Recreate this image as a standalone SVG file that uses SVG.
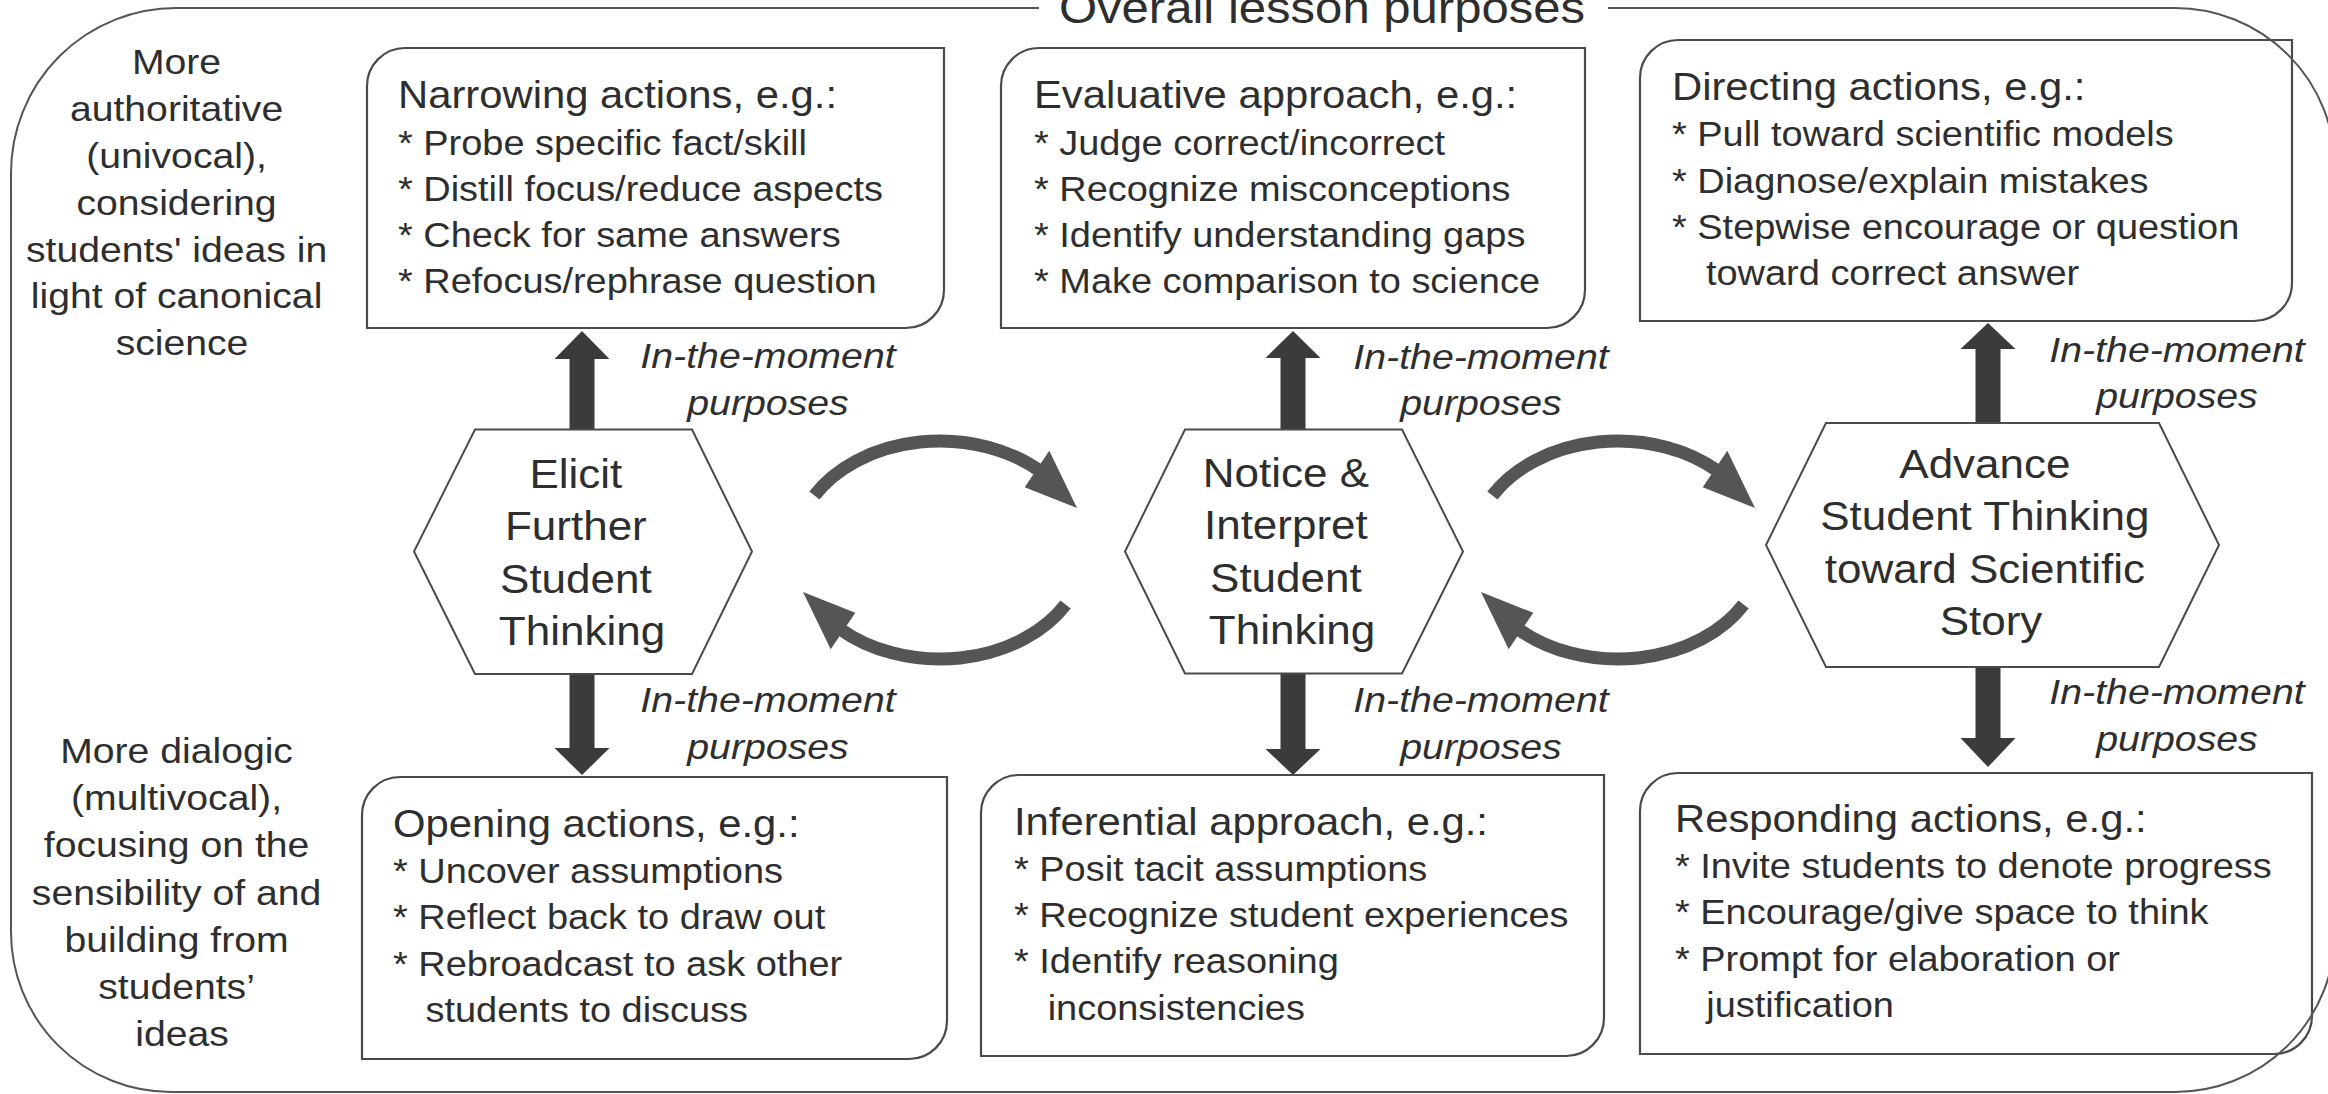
<svg xmlns="http://www.w3.org/2000/svg" xmlns:xlink="http://www.w3.org/1999/xlink" width="2328" height="1094" viewBox="0 0 2328 1094">
  <style>
    .t { font-family: "Liberation Sans", Arial, Helvetica, sans-serif; fill: #2e2e2e; }
    .hd { font-size: 38px; }
    .bl { font-size: 34.5px; }
    .hx { font-size: 40px; text-anchor: middle; }
    .lb { font-size: 35.6px; text-anchor: middle; }
    .mo { font-size: 35.7px; font-style: italic; text-anchor: middle; }
    .ttl { font-size: 44.6px; text-anchor: middle; }
    .box { fill: #ffffff; stroke: #4a4a4a; stroke-width: 2.2; }
    .hex { fill: #ffffff; stroke: #4a4a4a; stroke-width: 2; }
    .varrow { fill: #3b3b3b; }
    .arc { fill: none; stroke: #555555; stroke-width: 13; }
    .arc-head { fill: #555555; }
    .frame { fill: none; stroke: #555555; stroke-width: 2; }
  </style>
  <defs>
    <!-- one half of a cycle: clockwise arc over the top ending in a head -->
    <g id="cycle-half">
      <path class="arc" d="M814.4,495.5 A145,109 0 0 1 1040.7,471.6"/>
      <polygon class="arc-head" points="1024.7,487.2 1049.3,450.8 1077,508"/>
    </g>
  </defs>

  <rect width="2328" height="1094" fill="#ffffff"/>

  <!-- connectors -->
  <g id="connectors">
    <!-- cycle between Elicit and Notice -->
    <use xlink:href="#cycle-half"/>
    <use xlink:href="#cycle-half" transform="rotate(180 940 550)"/>
    <!-- cycle between Notice and Advance -->
    <use xlink:href="#cycle-half" transform="translate(678 0)"/>
    <use xlink:href="#cycle-half" transform="translate(678 0) rotate(180 940 550)"/>

    <!-- in-the-moment purpose arrows -->
    <polygon class="varrow" points="569.5,432 569.5,359 554.5,359 582,331 609.5,359 594.5,359 594.5,432"/>
    <polygon class="varrow" points="569.5,671 569.5,748 554.5,748 582,775 609.5,748 594.5,748 594.5,671"/>
    <polygon class="varrow" points="1280.5,432 1280.5,358 1265.5,358 1293,331 1320.5,358 1305.5,358 1305.5,432"/>
    <polygon class="varrow" points="1280.5,671 1280.5,749 1265.5,749 1293,775 1320.5,749 1305.5,749 1305.5,671"/>
    <polygon class="varrow" points="1975.5,426 1975.5,349 1960.5,349 1988,323 2015.5,349 2000.5,349 2000.5,426"/>
    <polygon class="varrow" points="1975.5,664 1975.5,738 1960.5,738 1988,767 2015.5,738 2000.5,738 2000.5,664"/>

    <text class="t mo" transform="matrix(1.1 0 0 1 -76.8 0)"><tspan x="768" y="368.5">In-the-moment</tspan><tspan x="768" y="415.5">purposes</tspan></text>
    <text class="t mo" transform="matrix(1.1 0 0 1 -76.8 0)"><tspan x="768" y="712">In-the-moment</tspan><tspan x="768" y="759.5">purposes</tspan></text>
    <text class="t mo" transform="matrix(1.1 0 0 1 -148.1 0)"><tspan x="1481" y="369">In-the-moment</tspan><tspan x="1481" y="415.5">purposes</tspan></text>
    <text class="t mo" transform="matrix(1.1 0 0 1 -148.1 0)"><tspan x="1481" y="712">In-the-moment</tspan><tspan x="1481" y="759">purposes</tspan></text>
    <text class="t mo" transform="matrix(1.1 0 0 1 -217.7 0)"><tspan x="2177" y="361.7">In-the-moment</tspan><tspan x="2177" y="408">purposes</tspan></text>
    <text class="t mo" transform="matrix(1.1 0 0 1 -217.7 0)"><tspan x="2177" y="704.5">In-the-moment</tspan><tspan x="2177" y="751">purposes</tspan></text>
  </g>

  <!-- side labels -->
  <g id="label-authoritative">
    <text class="t lb" transform="matrix(1.1 0 0 1 -18.2 0)">
      <tspan x="182" y="74.5">More</tspan>
      <tspan x="182" y="121.3">authoritative</tspan>
      <tspan x="182" y="168.1">(univocal),</tspan>
      <tspan x="182" y="214.9">considering</tspan>
      <tspan x="182" y="261.7">students' ideas in</tspan>
      <tspan x="182" y="308.5">light of canonical</tspan>
      <tspan x="182" y="355.3">science</tspan>
    </text>
  </g>
  <g id="label-dialogic">
    <text class="t lb" transform="matrix(1.1 0 0 1 -18.2 0)">
      <tspan x="182" y="763">More dialogic</tspan>
      <tspan x="182" y="810.2">(multivocal),</tspan>
      <tspan x="182" y="857.4">focusing on the</tspan>
      <tspan x="182" y="904.6">sensibility of and</tspan>
      <tspan x="182" y="951.8">building from</tspan>
      <tspan x="182" y="999">students’</tspan>
      <tspan x="182" y="1046.2">ideas</tspan>
    </text>
  </g>

  <!-- upper action boxes -->
  <g id="narrowing">
    <path class="box" d="M405,48 H944 V290 A38,38 0 0 1 906,328 H367 V86 A38,38 0 0 1 405,48 Z"/>
    <text class="t" transform="matrix(1.1 0 0 1 -39.8 0)">
      <tspan class="hd" x="398" y="108.5">Narrowing actions, e.g.:</tspan>
      <tspan class="bl" x="398" y="154.7">* Probe specific fact/skill</tspan>
      <tspan class="bl" x="398" y="200.9">* Distill focus/reduce aspects</tspan>
      <tspan class="bl" x="398" y="247.1">* Check for same answers</tspan>
      <tspan class="bl" x="398" y="293.3">* Refocus/rephrase question</tspan>
    </text>
  </g>
  <g id="evaluative">
    <path class="box" d="M1039,48 H1585 V290 A38,38 0 0 1 1547,328 H1001 V86 A38,38 0 0 1 1039,48 Z"/>
    <text class="t" transform="matrix(1.1 0 0 1 -103.4 0)">
      <tspan class="hd" x="1034" y="108.5">Evaluative approach, e.g.:</tspan>
      <tspan class="bl" x="1034" y="154.7">* Judge correct/incorrect</tspan>
      <tspan class="bl" x="1034" y="200.9">* Recognize misconceptions</tspan>
      <tspan class="bl" x="1034" y="247.1">* Identify understanding gaps</tspan>
      <tspan class="bl" x="1034" y="293.3">* Make comparison to science</tspan>
    </text>
  </g>
  <g id="directing">
    <path class="box" d="M1678,40 H2292 V283 A38,38 0 0 1 2254,321 H1640 V78 A38,38 0 0 1 1678,40 Z"/>
    <text class="t" transform="matrix(1.1 0 0 1 -167.2 0)">
      <tspan class="hd" x="1672" y="100.3">Directing actions, e.g.:</tspan>
      <tspan class="bl" x="1672" y="146.5">* Pull toward scientific models</tspan>
      <tspan class="bl" x="1672" y="192.7">* Diagnose/explain mistakes</tspan>
      <tspan class="bl" x="1672" y="238.9">* Stepwise encourage or question</tspan>
      <tspan class="bl" x="1702.9" y="285.1">toward correct answer</tspan>
    </text>
  </g>

  <!-- central practices -->
  <g id="elicit">
    <polygon class="hex" points="475,429.5 692,429.5 752,551.5 692,674 475,674 414,551.5"/>
    <text class="t hx" transform="matrix(1.1 0 0 1 -58.2 0)">
      <tspan x="582" y="488">Elicit</tspan>
      <tspan x="582" y="540.3">Further</tspan>
      <tspan x="582" y="592.6">Student</tspan>
      <tspan x="582" y="644.9">Thinking</tspan>
    </text>
  </g>
  <g id="notice">
    <polygon class="hex" points="1185,429.5 1402,429.5 1463,551.5 1402,673.5 1185,673.5 1125,551.5"/>
    <text class="t hx" transform="matrix(1.1 0 0 1 -129.2 0)">
      <tspan x="1292" y="487">Notice &amp;</tspan>
      <tspan x="1292" y="539.5">Interpret</tspan>
      <tspan x="1292" y="592">Student</tspan>
      <tspan x="1292" y="644.5">Thinking</tspan>
    </text>
  </g>
  <g id="advance">
    <polygon class="hex" points="1826,423 2159,423 2219,545 2159,667 1826,667 1766,545"/>
    <text class="t hx" transform="matrix(1.1 0 0 1 -199.1 0)">
      <tspan x="1991" y="478.4">Advance</tspan>
      <tspan x="1991" y="530.5">Student Thinking</tspan>
      <tspan x="1991" y="582.6">toward Scientific</tspan>
      <tspan x="1991" y="634.7">Story</tspan>
    </text>
  </g>

  <!-- lower action boxes -->
  <g id="opening">
    <path class="box" d="M400,777 H947 V1021 A38,38 0 0 1 909,1059 H362 V815 A38,38 0 0 1 400,777 Z"/>
    <text class="t" transform="matrix(1.1 0 0 1 -39.3 0)">
      <tspan class="hd" x="393" y="836.7">Opening actions, e.g.:</tspan>
      <tspan class="bl" x="393" y="883">* Uncover assumptions</tspan>
      <tspan class="bl" x="393" y="929.3">* Reflect back to draw out</tspan>
      <tspan class="bl" x="393" y="975.6">* Rebroadcast to ask other</tspan>
      <tspan class="bl" x="422.5" y="1021.9">students to discuss</tspan>
    </text>
  </g>
  <g id="inferential">
    <path class="box" d="M1019,775 H1604 V1018 A38,38 0 0 1 1566,1056 H981 V813 A38,38 0 0 1 1019,775 Z"/>
    <text class="t" transform="matrix(1.1 0 0 1 -101.4 0)">
      <tspan class="hd" x="1014" y="834.8">Inferential approach, e.g.:</tspan>
      <tspan class="bl" x="1014" y="881">* Posit tacit assumptions</tspan>
      <tspan class="bl" x="1014" y="927.3">* Recognize student experiences</tspan>
      <tspan class="bl" x="1014" y="973.5">* Identify reasoning</tspan>
      <tspan class="bl" x="1044.6" y="1019.8">inconsistencies</tspan>
    </text>
  </g>
  <g id="responding">
    <path class="box" d="M1678,773 H2312 V1016 A38,38 0 0 1 2274,1054 H1640 V811 A38,38 0 0 1 1678,773 Z"/>
    <text class="t" transform="matrix(1.1 0 0 1 -167.5 0)">
      <tspan class="hd" x="1675" y="831.7">Responding actions, e.g.:</tspan>
      <tspan class="bl" x="1675" y="878">* Invite students to denote progress</tspan>
      <tspan class="bl" x="1675" y="924.3">* Encourage/give space to think</tspan>
      <tspan class="bl" x="1675" y="970.6">* Prompt for elaboration or</tspan>
      <tspan class="bl" x="1703.4" y="1016.9">justification</tspan>
    </text>
  </g>

  <!-- enclosing frame with its title set into the top edge -->
  <g id="lesson-frame">
    <path class="frame" d="M1608,8 H2175 A160,160 0 0 1 2335,168 V932 A160,160 0 0 1 2175,1092 H171 A160,160 0 0 1 11,932 V173 A165,165 0 0 1 176,8 H1039"/>
    <text class="t ttl" x="1322" y="23" transform="matrix(1.1 0 0 1 -132.2 0)">Overall lesson purposes</text>
  </g>
</svg>
